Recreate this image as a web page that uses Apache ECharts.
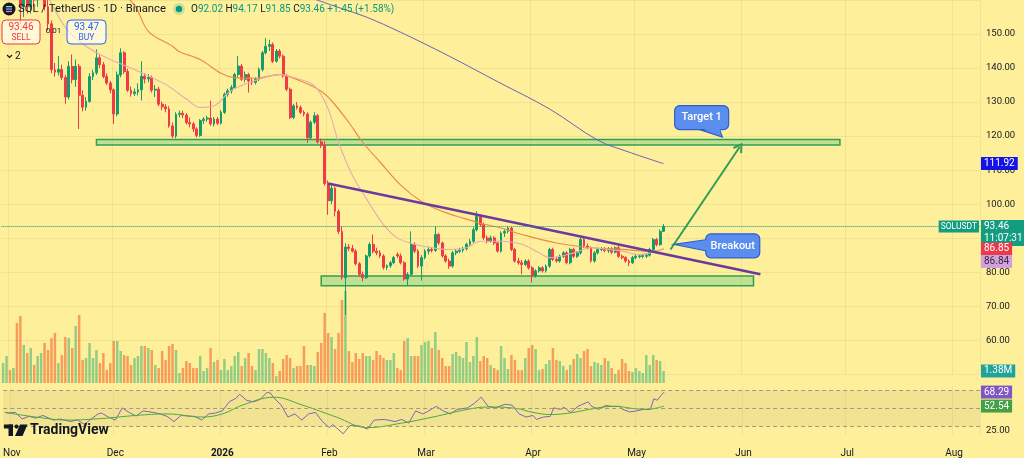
<!DOCTYPE html>
<html><head><meta charset="utf-8">
<script src="https://cdn.jsdelivr.net/npm/echarts@6/dist/echarts.min.js"></script>
<style>html,body{margin:0;padding:0;background:#fef09b}#c{width:1024px;height:458px}</style>
</head><body><div id="c"></div>
<script>
// ---------- DATA ----------
const firstDay = '2025-10-30';      // category 0  (day index -2, day 0 = 2025-11-01)
const dayCount = 283;               // categories up to 2026-08-07
const xTickDates  = ['2025-11-01','2025-12-01','2026-01-01','2026-02-01','2026-03-01','2026-04-01','2026-05-01','2026-06-01','2026-07-01','2026-08-01'];
const xTickLabels = ['Nov','Dec','2026','Feb','Mar','Apr','May','Jun','Jul','Aug'];

// daily candles from 2025-10-30: [open, close, low, high]
const candles = [
[190,193,187,196],[193,194,190,197],[194,186,184,195],[186,187,183,189],[187,171,168,188],[171,158,153,173],
[158,163,155,165],[163,158,156,165],[158,164,156,167],[164,160,158,166],[160,163,158,165],[163,166,161,169],
[166,158,157,167],[158,153,151,160],[153,139.5,138.5,154],[139.5,138.8,137.5,141.5],[138.8,139.6,137.8,143.5],
[139.6,137.2,136.5,141],[137.2,131.5,129.5,138],[131.5,140.5,130.8,142],[140.5,136.6,135.5,144],[136.6,140.5,134.5,142.5],
[140.5,132,122.1,141.2],[132,128.5,127.3,133.5],[128.5,130.2,127.5,131.5],[130.2,137.5,129.8,138.5],[137.5,138.6,136.5,139.5],
[138.6,143,138,145.5],[143,141,140,143.8],[141,137.5,137,141.8],[137.5,135.6,135,138.4],[135.6,133.6,132.6,136.2],
[133.6,126.5,123.6,134],[126.5,138,125.8,139],[138,144.5,137.3,145.8],[144.5,139,138.3,145],[139,133.5,133,139.8],
[133.5,132.5,131.6,134.6],[132.5,133,131.8,134],[133,133.6,132,135.5],[133.6,137.6,130.5,142],[137.6,136.8,135.5,138.5],
[136.8,137.2,135.8,138.2],[137.2,133.5,132.8,137.8],[133.5,133.8,131.5,135],[133.8,129.4,128.8,134.5],[129.4,128.6,127.6,130.2],
[128.6,128,127,129.4],[128,123,122.5,128.8],[123,120,119.4,124],[120,126.4,119.4,127],[126.4,126.7,125.5,127.5],
[126.7,126.2,125.3,127.5],[126.2,124,123.4,126.8],[124,123.6,122.6,125.5],[123.6,122.1,121.2,124.1],[122.1,120.2,119.6,122.6],
[120.2,124.6,119.8,125],[124.6,125,123.6,125.6],[125,125.3,124.2,126],[125.3,123.6,123,130.4],[123.6,125,122.8,125.6],
[125,123.8,123.2,125.6],[123.8,127,123.4,127.6],[127,132.3,126.5,132.8],[132.3,133.3,131.6,134],[133.3,134.3,132.5,135],
[134.3,138.1,134,138.6],[138.1,140.6,137.2,143.5],[140.6,136.7,136.2,141.2],[136.7,138.1,135.8,139],[138.1,136.2,132.8,138.6],
[136.2,135.8,135,137.2],[135.8,136.7,135.2,137.3],[136.7,139.6,136.2,140.2],[139.6,144.5,139,145],[144.5,146.4,144,148.8],
[146.4,146.9,145,148.3],[146.9,142,141.5,147.5],[142,145,141.6,145.6],[145,143.5,142.8,145.6],[143.5,137.7,137.2,144],
[137.7,133.8,133.2,138.2],[133.8,125.5,125,134.3],[125.5,128.9,125,129.5],[128.9,128.4,127.8,130],[128.4,127,126.5,129],
[127,126.5,125.8,127.6],[126.5,119.5,118,127],[119.5,124.1,119,124.6],[124.1,126,123.5,127],[126,118.3,117.8,126.5],
[118.3,117.3,116.5,119.3],[117.3,106.1,105.5,118.5],[106.1,101,96.9,107],[101,104.7,100,106],[104.7,97.9,96.4,105.2],
[97.9,92,91.2,98.5],[92,78.4,77.8,93.5],[78.4,87.4,67.5,88.5],[87.4,87,86.2,88.3],[87,86.2,85.8,88],[86.2,82.5,82,86.8],
[82.5,79.4,78.8,83],[79.4,78.4,77.3,80.2],[78.4,84.8,78,85.2],[84.8,88.2,84.3,88.8],[88.2,86.2,85.6,91.1],[86.2,85.7,85,87.2],
[85.7,84.8,84.2,86.5],[84.8,81.4,80.8,85.3],[81.4,81.9,80.6,82.3],[81.9,82.8,81.3,83.3],[82.8,84.3,82.3,84.8],[85.2,84.8,84.2,85.8],
[84.8,82.8,82.3,85.5],[82.8,78,77.5,83.2],[78,79.4,76,80],[79.4,88.2,79,92],[88.2,86.2,85.6,88.8],[86.2,81.8,81.2,86.8],
[81.8,84.3,77.5,85],[84.3,86.2,83.8,86.8],[86.2,86.7,85.2,87.5],[86.7,86.4,85.8,87.4],[86.4,91.1,86,93.5],[91.1,88.6,88,91.6],
[88.6,84.8,84.3,89],[84.8,83.3,82.8,85.3],[83.3,81.8,81,84],[81.8,85.7,81.3,86.2],[85.7,86.2,85,86.8],[86.2,86.5,85.6,87.2],
[86.5,86.9,85.8,87.5],[86.9,88.2,86.4,88.7],[88.2,89.1,87.8,89.8],[89.1,92.5,88.6,93.2],[92.5,96.4,92,97.9],[96.4,94,93.4,97],
[94,90.1,89.5,94.6],[90.1,89.1,88.5,90.8],[89.1,90.1,88.7,90.8],[90.1,88.6,88,90.6],[88.6,86.2,85.8,89.1],[86.2,91.5,85.8,92],
[91.5,92,90.4,92.6],[92,93,91.4,93.5],[93,86.7,86.2,93.4],[86.7,83.3,82.8,87.2],[83.3,82.8,82.2,84.2],[82.8,82.3,79.4,83.6],
[82.3,83.3,81.8,83.8],[83.3,81.3,80.8,83.8],[81.3,78.9,77,81.8],[78.9,80.4,78.4,80.9],[80.4,81.3,79.9,81.8],[81.3,80.4,79.9,81.8],
[80.4,81.8,79.9,82.3],[81.8,86.7,81.3,87.2],[86.7,83.8,83.3,87.2],[83.8,83.3,82.8,84.5],[83.3,84.7,82.8,85.2],[84.7,85.7,84.2,86.2],
[85.7,82.8,82.3,86.2],[82.8,86.7,82.3,87.2],[86.7,84.7,84.2,87.2],[84.7,85.7,84.2,86.2],[85.7,89.6,85.2,90.3],[89.6,87.7,87.2,90.1],
[87.7,87.2,86.7,88.4],[87.2,83.3,82.8,87.6],[83.3,85.7,82.8,86.2],[85.7,86.7,85.2,87.2],[86.7,86.9,86.2,87.4],[86.9,86.4,85.9,87.4],
[86.4,86.9,85.7,87.4],[86.9,85.9,85.4,87.4],[85.9,87.2,85.5,87.6],[87.2,84.7,84.2,87.7],[84.7,84.3,83.8,85.2],[84.3,83.3,82.8,84.7],
[83.3,82.8,81.8,83.8],[82.8,84.3,82.4,84.8],[84.3,84.7,83.8,85.2],[84.6,84.8,84.1,85.3],[84.6,84.9,84.1,85.4],[84.7,85,84.2,85.5],
[85,86.7,84.6,87.2],[86.7,89.6,86.2,90.1],[89.6,88.1,87.6,90.1],[88.1,92.02,87.8,92.6],[92.02,93.46,91.85,94.17]
];

// daily volume (millions), same days as candles
const volumes = [
2.30,3.10,1.49,1.72,6.90,7.70,4.37,3.45,4.02,2.07,3.10,3.45,4.60,3.79,5.17,5.75,2.30,3.22,5.29,5.17,
4.02,6.55,7.82,2.64,2.87,4.60,2.87,3.79,2.30,3.45,1.49,2.30,4.83,4.83,3.68,3.22,3.10,2.07,2.87,3.10,
4.25,4.25,4.02,3.79,2.07,1.72,3.68,2.64,4.25,4.48,3.79,1.15,1.72,2.53,2.30,1.72,1.72,3.10,1.38,1.72,
4.02,2.41,2.64,1.49,2.76,1.49,1.95,3.10,3.56,1.95,2.87,3.45,1.95,1.49,3.91,3.91,3.45,2.87,2.30,0.80,
1.38,2.76,3.22,2.87,1.72,1.95,1.95,4.25,2.07,2.07,1.95,3.56,4.60,8.05,5.75,5.29,3.91,5.75,9.54,10.57,
3.68,2.41,3.45,2.76,3.45,3.10,3.10,2.64,3.68,3.22,2.87,2.64,2.64,3.45,1.72,1.49,4.83,5.17,3.10,3.10,
3.10,4.37,4.71,4.83,4.02,5.86,3.79,2.87,1.95,1.95,3.33,3.56,3.10,2.87,4.71,2.41,3.10,5.29,2.53,3.10,
2.87,2.07,1.72,1.49,4.25,2.87,1.61,3.22,2.64,1.49,1.49,2.87,4.02,4.37,3.91,1.49,1.61,2.18,2.64,4.02,
2.64,2.53,1.95,1.49,2.07,2.76,3.33,2.87,3.68,3.91,1.95,2.41,2.30,2.07,2.87,2.53,1.72,1.03,1.49,2.76,
2.30,1.38,1.26,1.72,1.38,1.15,3.22,2.07,3.22,2.64,2.53,1.38
];

// moving averages: [day index (0 = 2025-11-01), price]
const maOrange = [[30,164],[36,158.5],[40,150.8],[47,146.4],[49,144.8],[55,142.5],[61,138.5],[65,137.2],[71,137],[78,138.1],
 [84,136.2],[90,133.2],[93,130.4],[98,124],[102,118.2],[107,112.4],[113,105.6],[119,100.8],[125,97.9],[131,95.9],[136,94.4],
 [142,93],[148,91.1],[158,88.6],[168,87.2],[177,86.7],[184,86.2],[187,86.3],[189,86.85]];
const maPink = [[10,163],[16,152],[22,146.4],[29,142.5],[36,139.6],[45,135.2],[51,130.9],[55,128.4],[59,128.9],[64,133.4],
 [72,136.7],[78,138.1],[82,137.2],[88,134.8],[92,128],[95,118.2],[99,108.5],[103,101.7],[108,94],[112,90.1],[117,88.2],
 [122,87.2],[127,86.7],[132,87.2],[136,89.1],[142,89.1],[148,88.2],[153,85.7],[156,84.3],[163,85.7],[168,87.2],[173,86.7],
 [177,86.2],[182,85.2],[187,86.2],[189,86.84]];
const maBlue = [[86,161],[93,158.5],[103,155],[113,150.5],[127,143.5],[141,136],[156,128],[170,118.8],[179,115.3],[189,111.92]];

// RSI(14) and its moving average, sampled: [day index, value]
const rsi = [[-2,45.5],[-1,44.7],[1,45.4],[3,38],[5,41],[7,39],[9,42],[12,36.8],[14,38],[17,35.1],[19,37],[21,32],[23,38],
 [25,43.7],[26,44.7],[28,40.2],[30,36.8],[32,50.5],[34,45.4],[36,41.3],[38,47.1],[41,45.4],[43,43.7],[45,40.9],[47,35.1],
 [49,42],[53,40.9],[55,36.8],[57,43.7],[59,44.7],[61,47.1],[63,57.3],[65,61.4],[66,65.9],[68,59.1],[70,57.3],[72,60.1],
 [74,68.3],[75,66.9],[76,61.4],[78,53.9],[80,40.2],[82,43.7],[84,36.8],[86,43.7],[88,45.4],[90,35.1],[92,28.3],[93,31.7],
 [96,21.4],[98,30.7],[101,30],[103,26.6],[105,36.8],[108,37.5],[111,35.1],[113,37.5],[115,33.4],[117,47.1],[119,43.7],
 [120,45.4],[123,52.2],[125,47.1],[127,43.7],[129,48.8],[132,50.5],[134,55.6],[136,62.5],[138,52.2],[140,50.5],[143,54.6],
 [145,53.5],[147,43.7],[149,40.2],[151,42],[152,37.5],[154,40.2],[156,40.9],[157,50.5],[159,48.8],[160,51.2],[161,47.8],
 [162,45.4],[164,52.2],[165,53.9],[167,57.3],[168,52.2],[170,48.8],[171,51.2],[172,53.2],[174,52.2],[176,52.2],[177,48.8],
 [179,46],[181,47.1],[183,48.8],[185,48.8],[186,60.8],[187,59.1],[188,64.2],[189,68.29]];
const rsiMA = [[-2,45.4],[7,40.2],[16,36.8],[26,38.5],[36,42],[45,43.7],[55,40.2],[61,43.7],[67,53.9],[76,62.5],[84,53.9],
 [94,40.2],[103,28.3],[113,33.4],[122,40.2],[132,48.8],[138,51.5],[146,50],[151,45.4],[156,43],[161,44.4],[166,47.8],
 [171,51.2],[175,52.2],[180,49.8],[184,48.8],[187,50.5],[189,52.54]];

// last values shown on the scales
const lastPrice = 93.46, countdown = '11:07:31';
const lastMaBlue = 111.92, lastMaOrange = 86.85, lastMaPink = 86.84;
const lastVolume = 1.38, lastRsi = 68.29, lastRsiMA = 52.54;

// drawings: zones [dayFrom, dayTo, priceTop, priceBottom], trend line, arrow, callouts
const zones = [[25,240,119.0,117.4],[90,215,78.9,76.0]];
const trendLine = [[92,106.1],[217,79.4]];
const arrowLine = [[191,86.7],[211,116.8]];
const calloutText = ['Breakout','Target 1'];
const calloutBox  = [[209,87.75],[200,125.44]];
const calloutTip  = [[192,88.2],[206,119.7]];

// ---------- CHART ----------
const BG = '#fef09b', GRIDC = 'rgba(110,100,40,0.09)', TXT = '#131722';
const UP = '#159c6c', DOWN = '#f03a45';
const FONT = 'Roboto, "Noto Sans", sans-serif';
const HIDDEN = { color: 'rgba(0,0,0,0)', width: 1, type: 'solid' };
const cats = [];
const t0 = Date.parse(firstDay + 'T00:00:00Z');
for (let i = 0; i < dayCount; i++) cats.push(new Date(t0 + i * 86400000).toISOString().slice(0, 10));
const OFF = 2; // day index -> category index
const cat = d => cats[d + OFF];
const toCat = arr => arr.map(p => [cat(p[0]), p[1]]);
const isTick = (i, v) => xTickDates.indexOf(v) >= 0;

const volData = volumes.map((v, i) => ({ value: v, itemStyle: { color: candles[i][1] >= candles[i][0] ? 'rgba(40,170,110,0.5)' : 'rgba(240,90,40,0.55)' } }));

function tag(value, text, bg, fg, offset) {
  return { yAxis: value, lineStyle: HIDDEN,
    label: { show: true, position: 'end', formatter: text, backgroundColor: bg, color: fg || '#fff',
      padding: [2, 3, 1, 3], fontSize: 10, distance: 1, fontFamily: FONT, offset: offset || [0, 0] } };
}

const chart = echarts.init(document.getElementById('c'), null, { renderer: 'canvas' });
const option = {
  animation: false,
  backgroundColor: BG,
  textStyle: { fontFamily: FONT },
  grid: [
    { left: 1.35, right: 44, top: -3.33, height: 377.67 },
    { left: 1.35, right: 44, top: 283, height: 100 },
    { left: 1.35, right: 44, top: 386.1, height: 53.63 }
  ],
  xAxis: [0, 1, 2].map(i => ({
    type: 'category', gridIndex: i, data: cats, boundaryGap: true,
    axisLine: { show: false }, axisTick: { show: false },
    axisLabel: i === 2 ? {
      show: true, interval: isTick, margin: 13, fontSize: 10, color: TXT,
      formatter: v => { const k = xTickDates.indexOf(v); const s = xTickLabels[k]; return v.slice(5) === '01-01' ? '{b|' + s + '}' : s; },
      rich: { b: { fontWeight: 'bold', fontSize: 10, color: TXT } }
    } : { show: false },
    splitLine: i === 1 ? { show: false } : { show: true, interval: isTick, lineStyle: { color: GRIDC, width: 1 } }
  })),
  yAxis: [
    { type: 'value', gridIndex: 0, position: 'right', min: 50, max: 160, interval: 10,
      axisLine: { show: false }, axisTick: { show: false },
      axisLabel: { margin: 6, fontSize: 9.5, color: TXT, formatter: v => (v >= 60 && v <= 150) ? v.toFixed(2) : '' },
      splitLine: { lineStyle: { color: GRIDC } } },
    { type: 'value', gridIndex: 1, min: 0, max: 11.49, show: false },
    { type: 'value', gridIndex: 2, position: 'right', min: 20, max: 75, interval: 5,
      axisLine: { show: false }, axisTick: { show: false }, splitLine: { show: false },
      axisLabel: { margin: 6, fontSize: 9.5, color: TXT, formatter: v => v === 25 ? '25.00' : '' } }
  ],
  series: [
    { type: 'bar', xAxisIndex: 1, yAxisIndex: 1, data: volData, barWidth: '72%', z: 1, silent: true,
      markLine: { silent: true, symbol: ['none', 'none'], data: [tag(lastVolume, '1.38M', '#22a39a')] } },
    { type: 'candlestick', xAxisIndex: 0, yAxisIndex: 0, data: candles, barWidth: '68%', z: 3,
      itemStyle: { color: UP, color0: DOWN, borderColor: UP, borderColor0: DOWN, borderWidth: 1 },
      markArea: { silent: true, z: 2,
        itemStyle: { color: 'rgba(120,205,130,0.45)', borderColor: '#2f9e57', borderWidth: 1.5 },
        data: zones.map(z => [{ coord: [cat(z[0]), z[2]] }, { coord: [cat(z[1]), z[3]] }]) },
      markLine: { silent: true, symbol: ['none', 'none'], z: 5, label: { show: false },
        data: [
          [{ coord: [cat(trendLine[0][0]), trendLine[0][1]], lineStyle: { color: '#6b3a9e', width: 2.5, type: 'solid' } },
           { coord: [cat(trendLine[1][0]), trendLine[1][1]] }],
          [{ coord: [cat(arrowLine[0][0]), arrowLine[0][1]], lineStyle: { color: '#2f9e57', width: 2, type: 'solid' } },
           { coord: [cat(arrowLine[1][0]), arrowLine[1][1]], symbol: 'path://M5,0 L10,7.5 L8.6,8.7 L5,3.2 L1.4,8.7 L0,7.5 Z', symbolSize: [11, 10] }],
          { yAxis: lastPrice, lineStyle: { type: 'dotted', color: '#089981', width: 1 },
            label: { show: true, position: 'end', distance: 1, offset: [0, 6.5], backgroundColor: '#139c7f', padding: [1, 3, 1, 3],
              formatter: '{a|' + lastPrice.toFixed(2) + '}\n{a|' + countdown + '}', rich: { a: { color: '#fff', fontSize: 10, lineHeight: 12, fontFamily: FONT } } } },
          { yAxis: lastPrice, lineStyle: HIDDEN,
            label: { show: true, position: 'insideEnd', distance: 1, backgroundColor: '#139c7f', color: '#fff', fontSize: 8.5, padding: [2, 2, 1, 2], formatter: 'SOLUSDT', fontFamily: FONT } },
          tag(lastMaBlue, lastMaBlue.toFixed(2), '#1414e6'),
          tag(lastMaOrange, lastMaOrange.toFixed(2), '#ea3a4c'),
          tag(lastMaPink, lastMaPink.toFixed(2), '#d3a0dc', '#3a2a40', [0, 12.5])
        ] } },
    { type: 'line', xAxisIndex: 0, yAxisIndex: 0, data: toCat(maOrange), showSymbol: false, smooth: 0.35, z: 4, silent: true,
      lineStyle: { color: '#ef8a45', width: 1.2 } },
    { type: 'line', xAxisIndex: 0, yAxisIndex: 0, data: toCat(maPink), showSymbol: false, smooth: 0.35, z: 4, silent: true,
      lineStyle: { color: '#e8aab0', width: 1.1 } },
    { type: 'line', xAxisIndex: 0, yAxisIndex: 0, data: toCat(maBlue), showSymbol: false, smooth: 0.35, z: 4, silent: true,
      lineStyle: { color: '#6a62b8', width: 1 } },
    { type: 'line', xAxisIndex: 2, yAxisIndex: 2, data: toCat(rsi), showSymbol: false, z: 4, silent: true,
      lineStyle: { color: '#7e64b8', width: 1 },
      markArea: { silent: true, itemStyle: { color: 'rgba(170,150,100,0.14)' }, data: [[{ yAxis: 30 }, { yAxis: 70 }]] },
      markLine: { silent: true, symbol: ['none', 'none'],
        data: [
          { yAxis: 70, lineStyle: { type: [4, 3], color: '#a09a80', width: 1 }, label: { show: false } },
          { yAxis: 50, lineStyle: { type: [4, 3], color: '#a09a80', width: 1 }, label: { show: false } },
          { yAxis: 30, lineStyle: { type: [4, 3], color: '#a09a80', width: 1 }, label: { show: false } },
          tag(lastRsi, lastRsi.toFixed(2), '#7e57c2')
        ] } },
    { type: 'line', xAxisIndex: 2, yAxisIndex: 2, data: toCat(rsiMA), showSymbol: false, smooth: 0.4, z: 4, silent: true,
      lineStyle: { color: '#4caa3c', width: 1 },
      markLine: { silent: true, symbol: ['none', 'none'], data: [tag(lastRsiMA, lastRsiMA.toFixed(2), '#43a047')] } },
    { type: 'custom', xAxisIndex: 0, yAxisIndex: 0, z: 10, clip: false, silent: true,
      data: calloutText.map((t, i) => [calloutBox[i][0] + OFF, calloutBox[i][1], calloutTip[i][0] + OFF, calloutTip[i][1]]),
      renderItem: function (params, api) {
        const c = api.coord([api.value(0), api.value(1)]);
        const t = api.coord([api.value(2), api.value(3)]);
        const w = 54, h = 24, x0 = c[0] - w / 2, y0 = c[1] - h / 2;
        let b1, b2, i1, i2;
        if (t[0] < x0) { b1 = [x0, c[1] - 6]; b2 = [x0, c[1] + 5]; i1 = [x0 + 2, c[1] - 6]; i2 = [x0 + 2, c[1] + 5]; }
        else { b1 = [c[0] - 2, y0 + h]; b2 = [c[0] + 18, y0 + h]; i1 = [c[0] - 2, y0 + h - 2]; i2 = [c[0] + 18, y0 + h - 2]; }
        const fill = '#5a8ded', stroke = '#2d5fcf';
        return { type: 'group', children: [
          { type: 'polygon', shape: { points: [b1, t, b2] }, style: { fill: fill, stroke: stroke, lineWidth: 1.2 } },
          { type: 'rect', shape: { x: x0, y: y0, width: w, height: h, r: 5 }, style: { fill: fill, stroke: stroke, lineWidth: 1.2 } },
          { type: 'polygon', shape: { points: [i1, [t[0] + (c[0] - t[0]) * 0.08, t[1] + (c[1] - t[1]) * 0.08], i2] }, style: { fill: fill } },
          { type: 'text', style: { text: calloutText[params.dataIndex], x: c[0], y: c[1], align: 'center', verticalAlign: 'middle',
              fill: '#fff', fontSize: 11, fontFamily: FONT, fontWeight: 500 } }
        ] };
      } }
  ],
  graphic: [
    { type: 'circle', shape: { cx: 9, cy: 9, r: 6.5 }, style: { fill: '#17171c' }, z: 100 },
    { type: 'rect', shape: { x: 6, y: 6, width: 6, height: 1.3 }, style: { fill: '#6ee7c4' }, z: 101 },
    { type: 'rect', shape: { x: 6, y: 8.4, width: 6, height: 1.3 }, style: { fill: '#a78bfa' }, z: 101 },
    { type: 'rect', shape: { x: 6, y: 10.8, width: 6, height: 1.3 }, style: { fill: '#c084fc' }, z: 101 },
    { type: 'text', x: 18, y: 9, z: 100, style: { text: 'SOL / TetherUS · 1D · Binance', fontSize: 11.3, fill: TXT, verticalAlign: 'middle', fontFamily: FONT } },
    { type: 'circle', shape: { cx: 179, cy: 9, r: 6 }, style: { fill: 'rgba(8,153,129,0.2)' }, z: 100 },
    { type: 'circle', shape: { cx: 179, cy: 9, r: 3.2 }, style: { fill: '#089981' }, z: 101 },
    { type: 'text', x: 191, y: 9, z: 100, style: { verticalAlign: 'middle', fontFamily: FONT, fontSize: 10,
        text: '{l|O}{v|92.02} {l|H}{v|94.17} {l|L}{v|91.85} {l|C}{v|93.46} {v|+1.45 (+1.58%)}',
        rich: { l: { fill: TXT, fontSize: 10, fontFamily: FONT }, v: { fill: '#089981', fontSize: 10, fontFamily: FONT } } } },
    { type: 'rect', shape: { x: 2, y: 20, width: 38, height: 24, r: 4 }, style: { fill: 'rgba(255,255,255,0.6)', stroke: '#f23645', lineWidth: 1 }, z: 100 },
    { type: 'text', x: 21, y: 27, z: 101, style: { text: '93.46', align: 'center', verticalAlign: 'middle', fontSize: 10, fill: '#f23645', fontFamily: FONT } },
    { type: 'text', x: 21, y: 38, z: 101, style: { text: 'SELL', align: 'center', verticalAlign: 'middle', fontSize: 8.5, fill: '#f23645', fontFamily: FONT } },
    { type: 'text', x: 53.5, y: 31, z: 101, style: { text: '0.01', align: 'center', verticalAlign: 'middle', fontSize: 8, fill: TXT, fontFamily: FONT } },
    { type: 'rect', shape: { x: 67, y: 20, width: 39, height: 24, r: 4 }, style: { fill: 'rgba(255,255,255,0.6)', stroke: '#2962ff', lineWidth: 1 }, z: 100 },
    { type: 'text', x: 86.5, y: 27, z: 101, style: { text: '93.47', align: 'center', verticalAlign: 'middle', fontSize: 10, fill: '#2962ff', fontFamily: FONT } },
    { type: 'text', x: 86.5, y: 38, z: 101, style: { text: 'BUY', align: 'center', verticalAlign: 'middle', fontSize: 8.5, fill: '#2962ff', fontFamily: FONT } },
    { type: 'polyline', shape: { points: [[7, 55], [9.5, 57.5], [12, 55]] }, style: { stroke: TXT, lineWidth: 1.2, fill: null }, z: 101 },
    { type: 'text', x: 15, y: 56, z: 101, style: { text: '2', verticalAlign: 'middle', fontSize: 10, fill: TXT, fontFamily: FONT } },
    // TradingView logo
    { type: 'rect', shape: { x: 4, y: 424.5, width: 9, height: 4 }, style: { fill: TXT }, z: 100 },
    { type: 'rect', shape: { x: 8.5, y: 424.5, width: 4.5, height: 11.5 }, style: { fill: TXT }, z: 100 },
    { type: 'circle', shape: { cx: 16.5, cy: 426.6, r: 2.1 }, style: { fill: TXT }, z: 100 },
    { type: 'polygon', shape: { points: [[20, 424.5], [27.5, 424.5], [22.5, 436], [15, 436]] }, style: { fill: TXT }, z: 100 },
    { type: 'text', x: 30, y: 430.5, z: 100, style: { text: 'TradingView', verticalAlign: 'middle', fontSize: 14, fontWeight: 'bold', fill: TXT, fontFamily: FONT } }
  ]
};
chart.setOption(option);
</script>
</body></html>
